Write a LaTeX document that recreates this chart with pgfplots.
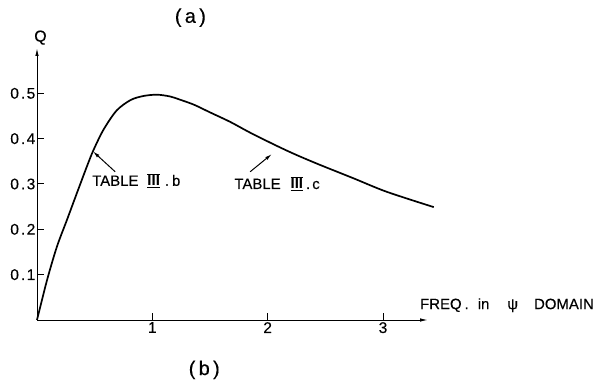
\documentclass[border=0pt]{standalone}
\usepackage{fontspec}
\setmainfont{Liberation Sans}[UprightFeatures={FakeBold=0.3}]
\usepackage{pgfplots}
\pgfplotsset{compat=1.18}
\usetikzlibrary{arrows.meta}

% roman numeral three with bars above and below
\newcommand\RIII{\mbox{$\overline{\underline{\hbox{\bfseries III}}}$}}
% tick number with a little air round the point
\newcommand\tk[2]{#1\hspace{2bp}.\hspace{1.5bp}#2}

\begin{document}
\begin{tikzpicture}
\useasboundingbox (0,0) rectangle (612bp,383bp);
\begin{axis}[
  at={(37bp,63bp)}, anchor=origin,
  scale only axis,
  width=391bp, height=272bp,
  xmin=0, xmax=3.39,
  ymin=0, ymax=0.60,
  axis lines=left,
  axis line style={line width=1bp, -{Latex[length=8bp,width=3.5bp]}},
  xtick={1,2,3},
  ytick={0.1,0.2,0.3,0.4,0.5},
  yticklabels={\tk01,\tk02,\tk03,\tk04,\tk05},
  major tick length=7bp,
  tick style={line width=1bp, black},
  tick align=inside,
  /pgf/number format/assume math mode=true,
  ticklabel style={font=\fontsize{15.5}{18}\selectfont},
  yticklabel style={inner sep=1.5bp},
  xticklabel style={inner sep=2bp},
  clip=false,
]
\addplot[black, line width=1.7bp, smooth, tension=0.5] coordinates {
  (0,0) (0.087,0.088) (0.173,0.162) (0.26,0.221) (0.346,0.280)
  (0.433,0.339) (0.49,0.375) (0.577,0.420) (0.69,0.462) (0.81,0.485)
  (0.92,0.494) (1.04,0.497) (1.155,0.493) (1.24,0.486) (1.36,0.475)
  (1.50,0.458) (1.675,0.437) (1.85,0.413) (2.08,0.384) (2.25,0.364)
  (2.455,0.342) (2.74,0.313) (3.03,0.283) (3.44,0.249)
};

% annotation arrows
\draw[line width=1bp, -{Latex[length=7bp,width=3.5bp]}]
  (axis cs:0.678,0.327) -- (axis cs:0.485,0.372);
\draw[line width=1bp, -{Latex[length=7bp,width=3.5bp]}]
  (axis cs:1.848,0.327) -- (axis cs:2.036,0.366);

\node[anchor=base west, inner sep=0pt, font=\fontsize{15}{18}\selectfont]
  at (axis cs:0.477,0.296) {TABLE\hspace{9bp}\RIII\hspace{5bp}.\hspace{3bp}b};
\node[anchor=base west, inner sep=0pt, font=\fontsize{15}{18}\selectfont]
  at (axis cs:1.71,0.289) {TABLE\hspace{10bp}\RIII\hspace{3bp}.\hspace{2bp}c};

\node[font=\fontsize{16}{19}\selectfont] at (axis cs:0.03,0.623) {Q};
\node[font=\fontsize{20}{24}\selectfont] at (axis cs:1.33,0.667) {(\,a\,)};
\node[font=\fontsize{20}{24}\selectfont] at (axis cs:1.45,-0.110) {(\,b\,)};

\node[anchor=base west, inner sep=0pt, font=\fontsize{15}{18}\selectfont]
  at (axis cs:3.32,0.024)
  {FREQ\hspace{3bp}.\hspace{9bp}in\hspace{18bp}ψ\hspace{16bp}DOMAIN};
\end{axis}
\end{tikzpicture}
\end{document}
